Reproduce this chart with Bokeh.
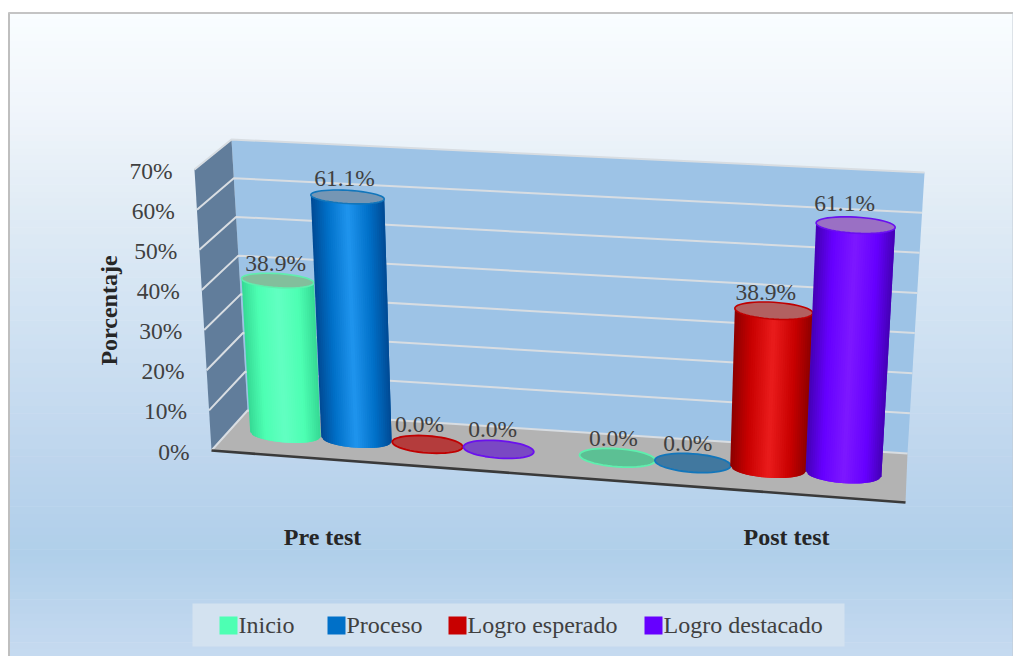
import math
from bokeh.embed import file_html
from bokeh.resources import INLINE
from bokeh.plotting import figure
from bokeh.models import Range1d
from bokeh.core.properties import value

# ---- data ----
categories = ["Pre test", "Post test"]
series_names = ["Inicio", "Proceso", "Logro esperado", "Logro destacado"]
inicio = [38.9, 0.0]
proceso = [61.1, 0.0]
logro_esperado = [0.0, 38.9]
logro_destacado = [0.0, 61.1]
tick_values = [0, 10, 20, 30, 40, 50, 60, 70]
tick_labels = ["0%", "10%", "20%", "30%", "40%", "50%", "60%", "70%"]
axis_title = "Porcentaje"
all_series = [inicio, proceso, logro_esperado, logro_destacado]

# ---- styles ----
BASE = ["#4dffb3", "#0070c8", "#c80000", "#6600ff"]
DARK = ["#35d994", "#004a94", "#8c0000", "#4400b4"]
LIGHT = ["#62ffc2", "#2095ee", "#ea1c1c", "#7d18ff"]
TOP_FILL = ["#82bf9c", "#7596b4", "#b26060", "#9a70c4"]
ZERO_FILL = ["#5cc094", "#41789f", "#b43c3c", "#7a48c4"]
EDGE = ["#5fefae", "#1276bb", "#c00000", "#6a10ee"]
SERIF = value("Liberation Serif")
TEXT = "#404040"
W, H = 1013, 656
VMAX = 70.0
FONT = "23.5px"
FONT_B = "24px"

CORNERS = {
    (0, 0, 1): (211, 450), (1, 0, 1): (905, 502),
    (0, 0, 0): (247, 410), (1, 0, 0): (907, 453),
    (0, 1, 1): (194, 169), (1, 1, 1): (922, 212),
    (0, 1, 0): (231, 139), (1, 1, 0): (924, 172),
}


def proj(u, v, d):
    t = v / VMAX
    x = y = 0.0
    for (a, b, c), (px, py) in CORNERS.items():
        wgt = (u if a else 1 - u) * (t if b else 1 - t) * (d if c else 1 - d)
        x += wgt * px
        y += wgt * py
    return x, y


def lerp_hex(c1, c2, t):
    a = [int(c1[i:i + 2], 16) for i in (1, 3, 5)]
    b = [int(c2[i:i + 2], 16) for i in (1, 3, 5)]
    return "#%02x%02x%02x" % tuple(round(a[i] + (b[i] - a[i]) * t) for i in range(3))


def ramp(i, s):
    stops = [(0.0, DARK[i]), (0.22, BASE[i]), (0.5, LIGHT[i]), (0.78, BASE[i]), (1.0, DARK[i])]
    for (s0, c0), (s1, c1) in zip(stops, stops[1:]):
        if s <= s1:
            return lerp_hex(c0, c1, (s - s0) / (s1 - s0))
    return DARK[i]


def frame_vectors(u, v, ru, rd=0.2):
    cx, cy = proj(u, v, 0.5)
    ex, ey = proj(u + ru, v, 0.5)
    _, dy = proj(u, v, 0.5 + rd)
    return cx, cy, ex - cx, ey - cy, dy - cy


def ellipse(u, v, ru, n=48):
    cx, cy, ux, uy, dy = frame_vectors(u, v, ru)
    xs, ys = [], []
    for k in range(n):
        t = 2 * math.pi * k / n
        xs.append(cx + math.cos(t) * ux)
        ys.append(cy + math.cos(t) * uy + math.sin(t) * dy)
    return xs, ys


def front_point(u, v, s, ru):
    cx, cy, ux, uy, dy = frame_vectors(u, v, ru)
    c = 2 * s - 1
    sn = math.sqrt(max(0.0, 1 - c * c))
    return cx + c * ux, cy + c * uy + sn * dy


p = figure(width=W, height=H, output_backend="svg", toolbar_location=None,
           x_range=Range1d(0, W), y_range=Range1d(H, 0),
           min_border=0, outline_line_color=None, background_fill_color="white",
           border_fill_color="white")
p.xaxis.visible = False
p.yaxis.visible = False
p.grid.visible = False

N = 90
top, bottom = 12.0, float(H)
for_band = [top + (bottom - top) * k / N for k in range(N + 1)]
GRAD = [(0.0, "#f9fdff"), (0.15, "#f0f5fb"), (0.3, "#e1ecf5"), (0.5, "#cfe1f2"),
        (0.7, "#bdd5ed"), (0.84, "#b0cfea"), (1.0, "#c6daf0")]


def grad(t):
    for (s0, c0), (s1, c1) in zip(GRAD, GRAD[1:]):
        if t <= s1:
            return lerp_hex(c0, c1, (t - s0) / (s1 - s0))
    return GRAD[-1][1]


cols = [grad((k + 0.5) / N) for k in range(N)]
p.quad(left=8, right=W, top=for_band[:-1], bottom=[b + 0.6 for b in for_band[1:]],
       fill_color=cols, line_color=None)
p.line([8.5, 8.5], [12, bottom], line_color="#bfbfbf", line_width=2)
p.line([8, W], [12.5, 12.5], line_color="#c4c4c4", line_width=2)
p.line([1012.5, 1012.5], [12, bottom], line_color="#c2cad2", line_width=1)


def poly(points, **kw):
    p.patch([q[0] for q in points], [q[1] for q in points], **kw)


poly([proj(0, 0, 0), proj(1, 0, 0), proj(1, VMAX, 0), proj(0, VMAX, 0)],
     fill_color="#9dc3e6", line_color=None)
poly([proj(0, 0, 1), proj(0, 0, 0), proj(0, VMAX, 0), proj(0, VMAX, 1)],
     fill_color="#617d9b", line_color=None)
poly([proj(0, 0, 1), proj(1, 0, 1), proj(1, 0, 0), proj(0, 0, 0)],
     fill_color="#b3b3b3", line_color=None)

for tv in tick_values:
    a, b, c = proj(0, tv, 1), proj(0, tv, 0), proj(1, tv, 0)
    p.line([a[0], b[0], c[0]], [a[1], b[1], c[1]], line_color="#d8dde2", line_width=2)
a, b = proj(0, 0, 1), proj(1, 0, 1)
p.line([a[0], b[0]], [a[1], b[1]], line_color="#3a3a3a", line_width=2.6)

BAR_STEP = [0.105, 0.1113]
CAT_CENTRES = [0.24, 0.74]
BAR_R = [0.052, 0.056]
STRIPS = 36
bar_tops = []
for c, centre in enumerate(CAT_CENTRES):
    ru = BAR_R[c]
    for i, vals in enumerate(all_series):
        val = vals[c]
        u = centre + (i - 1.5) * BAR_STEP[c]
        if val > 0:
            xs_, ys_, fc = [], [], []
            for k in range(STRIPS):
                s0, s1 = k / STRIPS, min(1.0, (k + 2) / STRIPS)
                b0, b1 = front_point(u, 0, s0, ru), front_point(u, 0, s1, ru)
                t0, t1 = front_point(u, val, s0, ru), front_point(u, val, s1, ru)
                xs_.append([b0[0], b1[0], t1[0], t0[0]])
                ys_.append([b0[1], b1[1], t1[1], t0[1]])
                fc.append(ramp(i, (k + 0.5) / STRIPS))
            p.patches(xs_, ys_, fill_color=fc, line_color=None)
            ex, ey = ellipse(u, val, ru)
            p.patch(ex, ey, fill_color=TOP_FILL[i], line_color=EDGE[i], line_width=1.6)
        else:
            ex, ey = ellipse(u, 0, ru)
            p.patch(ex, ey, fill_color=ZERO_FILL[i], line_color=EDGE[i], line_width=1.8)
        bar_tops.append((proj(u, val, 0.5), val))

LABEL_DX = [-2, -3, -8, -6, -4, -5, -8, -11]
LABEL_DY = [-18, -19, -20, -20, -20, -20, -19, -22]
lx = [q[0][0] + d for q, d in zip(bar_tops, LABEL_DX)]
ly = [q[0][1] + d for q, d in zip(bar_tops, LABEL_DY)]
lt = ["%.1f%%" % q[1] for q in bar_tops]
p.text(lx, ly, text=lt, text_font=SERIF, text_font_size=FONT, text_color=TEXT,
       text_align="center", text_baseline="middle")

tx = [proj(0, v, 1)[0] - 22 for v in tick_values]
ty = [proj(0, v, 1)[1] + 1 for v in tick_values]
p.text(tx, ty, text=tick_labels, text_font=SERIF, text_font_size=FONT, text_color=TEXT,
       text_align="right", text_baseline="middle")
p.text([108], [310], text=[axis_title], text_font=SERIF, text_font_size=FONT_B,
       text_font_style="bold", text_color="#262626", angle=math.pi / 2,
       text_align="center", text_baseline="middle")

p.text([322, 786], [536, 536], text=categories, text_font=SERIF, text_font_size=FONT_B,
       text_font_style="bold", text_color="#262626", text_align="center",
       text_baseline="middle")

p.quad(left=[192], right=[844], top=[603], bottom=[646], fill_color="#d3e2f0", line_color=None)
sw_x = [219, 327, 448, 644]
p.quad(left=sw_x, right=[x + 18 for x in sw_x], top=[616] * 4, bottom=[634] * 4,
       fill_color=BASE, line_color=None)
p.text([x + 19 for x in sw_x], [624.5] * 4, text=series_names, text_font=SERIF,
       text_font_size=FONT_B, text_color=TEXT, text_align="left", text_baseline="middle")

open("out.html", "w").write(file_html(p, INLINE))
